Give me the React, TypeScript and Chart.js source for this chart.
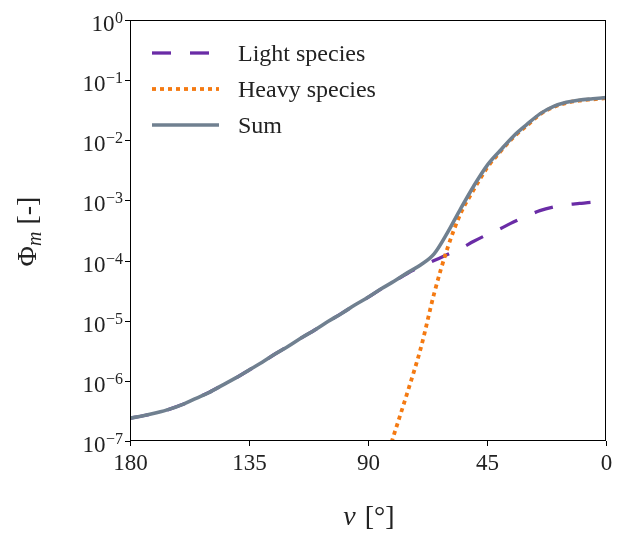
import React, { useEffect, useRef } from "react";
import { Chart, registerables } from "chart.js";

Chart.register(...registerables);

const FONT = '"Liberation Serif", "Times New Roman", serif';

// True anomaly grid (degrees)
const nu = [
  180, 175, 170, 165, 160, 155, 150, 145, 140, 135, 130, 125, 120, 115, 110, 105, 100, 95, 90,
  85, 80, 75, 70, 65, 60, 55, 50, 45, 40, 35, 30, 25, 20, 15, 10, 5, 0,
];

const sumValues = [
  2.4e-7, 2.63e-7, 2.95e-7, 3.39e-7, 4.07e-7, 5.13e-7, 6.46e-7, 8.51e-7, 1.12e-6, 1.51e-6,
  2.04e-6, 2.82e-6, 3.8e-6, 5.25e-6, 7.08e-6, 9.77e-6, 1.32e-5, 1.82e-5, 2.45e-5, 3.39e-5,
  4.57e-5, 6.31e-5, 8.51e-5, 1.29e-4, 2.88e-4, 7.24e-4, 1.74e-3, 3.8e-3, 6.76e-3, 1.17e-2,
  1.82e-2, 2.75e-2, 3.63e-2, 4.27e-2, 4.68e-2, 4.9e-2, 5.13e-2,
];

const lightValues = [
  2.4e-7, 2.63e-7, 2.95e-7, 3.39e-7, 4.07e-7, 5.13e-7, 6.46e-7, 8.51e-7, 1.12e-6, 1.51e-6,
  2.04e-6, 2.82e-6, 3.8e-6, 5.25e-6, 7.08e-6, 9.77e-6, 1.32e-5, 1.82e-5, 2.45e-5, 3.39e-5,
  4.57e-5, 6.17e-5, 7.94e-5, 1.0e-4, 1.26e-4, 1.58e-4, 2.09e-4, 2.69e-4, 3.39e-4, 4.37e-4,
  5.5e-4, 6.76e-4, 7.76e-4, 8.51e-4, 8.91e-4, 9.33e-4, 9.55e-4,
];

const heavyNu = [82, 80, 75, 70, 65, 60, 55, 50, 45, 40, 35, 30, 25, 20, 15, 10, 5, 0];
const heavyValues = [
  7.08e-8, 1.35e-7, 6.61e-7, 3.55e-6, 2.82e-5, 1.58e-4, 6.03e-4, 1.51e-3, 3.47e-3, 6.46e-3,
  1.12e-2, 1.74e-2, 2.69e-2, 3.55e-2, 4.17e-2, 4.57e-2, 4.79e-2, 5.01e-2,
];

const xTicks = [180, 135, 90, 45, 0];
const yTickExponents = [0, -1, -2, -3, -4, -5, -6, -7];
const seriesLabels = ["Light species", "Heavy species", "Sum"];

const COLOR_LIGHT = "#6a2ca6";
const COLOR_HEAVY = "#f47a12";
const COLOR_SUM = "#708090";

const mplPlugin = {
  id: "mplAxes",
  afterDatasetsDraw(chart: any) {
    const ctx = chart.ctx as CanvasRenderingContext2D;
    const { left, right, top, bottom } = chart.chartArea;
    const xs = chart.scales.x;
    const ys = chart.scales.y;
    ctx.save();

    // frame
    ctx.strokeStyle = "#000";
    ctx.lineWidth = 1;
    ctx.setLineDash([]);
    ctx.strokeRect(left + 0.5, top + 0.5, right - left - 1, bottom - top - 1);

    // y ticks and labels
    ctx.fillStyle = "#222";
    for (const e of yTickExponents) {
      const y = Math.round(ys.getPixelForValue(Math.pow(10, e))) + 0.5;
      ctx.beginPath();
      ctx.moveTo(left - 5, y);
      ctx.lineTo(left, y);
      ctx.stroke();
      const sup = e === 0 ? "0" : "\u2212" + Math.abs(e);
      const rx = left - 7;
      ctx.textAlign = "right";
      ctx.textBaseline = "alphabetic";
      ctx.font = `16px ${FONT}`;
      const supW = ctx.measureText(sup).width;
      ctx.fillText(sup, rx, y + 2);
      ctx.font = `23px ${FONT}`;
      ctx.fillText("10", rx - supW - 0.5, y + 10.5);
    }

    // x ticks and labels
    for (const v of xTicks) {
      const x = Math.round(xs.getPixelForValue(v)) + 0.5;
      ctx.beginPath();
      ctx.moveTo(x, bottom);
      ctx.lineTo(x, bottom + 5);
      ctx.stroke();
      ctx.font = `23px ${FONT}`;
      ctx.textAlign = "center";
      ctx.textBaseline = "alphabetic";
      ctx.fillText(String(v), x, bottom + 29);
    }

    // x title: ν [°]
    {
      const cx = (left + right) / 2;
      const base = bottom + 84;
      ctx.textAlign = "left";
      ctx.font = `italic 28px ${FONT}`;
      const w1 = ctx.measureText("\u03bd").width;
      ctx.font = `28px ${FONT}`;
      const t2 = " [\u00b0]";
      const w2 = ctx.measureText(t2).width;
      const x0 = cx - (w1 + w2) / 2;
      ctx.font = `italic 28px ${FONT}`;
      ctx.fillText("\u03bd", x0, base);
      ctx.font = `28px ${FONT}`;
      ctx.fillText(t2, x0 + w1 + 2, base);
    }

    // y title: Φ_m [-]
    {
      ctx.save();
      ctx.translate(36, (top + bottom) / 2 + 1);
      ctx.rotate(-Math.PI / 2);
      ctx.textAlign = "left";
      ctx.textBaseline = "alphabetic";
      ctx.font = `28px ${FONT}`;
      const wPhi = ctx.measureText("\u03a6").width;
      ctx.font = `italic 20px ${FONT}`;
      const wM = ctx.measureText("m").width;
      ctx.font = `28px ${FONT}`;
      const t3 = " [-]";
      const w3 = ctx.measureText(t3).width;
      const total = wPhi + wM + w3;
      let x = -total / 2;
      ctx.fillText("\u03a6", x, 0);
      x += wPhi;
      ctx.font = `italic 20px ${FONT}`;
      ctx.fillText("m", x, 5);
      x += wM;
      ctx.font = `28px ${FONT}`;
      ctx.fillText(t3, x, 0);
      ctx.restore();
    }

    // legend
    const ds = chart.data.datasets;
    const rowY = [top + 33, top + 69, top + 105];
    ds.forEach((d: any, i: number) => {
      const y = rowY[i];
      ctx.save();
      ctx.strokeStyle = d.borderColor;
      ctx.lineWidth = d.borderWidth;
      ctx.setLineDash(d.borderDash || []);
      ctx.lineCap = "butt";
      ctx.beginPath();
      ctx.moveTo(left + 22, y);
      ctx.lineTo(left + 89, y);
      ctx.stroke();
      ctx.restore();
      ctx.fillStyle = "#222";
      ctx.font = `24px ${FONT}`;
      ctx.textAlign = "left";
      ctx.textBaseline = "alphabetic";
      ctx.fillText(d.label, left + 108, y + 8);
    });

    ctx.restore();
  },
};

export default function App() {
  const canvasRef = useRef<HTMLCanvasElement | null>(null);

  useEffect(() => {
    if (!canvasRef.current) return;
    const toPts = (xsArr: number[], ysArr: number[]) => xsArr.map((x, i) => ({ x, y: ysArr[i] }));
    const chart = new Chart(canvasRef.current, {
      type: "line",
      data: {
        datasets: [
          {
            label: seriesLabels[0],
            data: toPts(nu, lightValues),
            borderColor: COLOR_LIGHT,
            borderWidth: 3.3,
            borderDash: [19, 19],
            borderCapStyle: "butt",
            pointRadius: 0,
            cubicInterpolationMode: "monotone",
            fill: false,
            order: 2,
          },
          {
            label: seriesLabels[1],
            data: toPts(heavyNu, heavyValues),
            borderColor: COLOR_HEAVY,
            borderWidth: 3.8,
            borderDash: [4, 4],
            borderCapStyle: "butt",
            pointRadius: 0,
            cubicInterpolationMode: "monotone",
            fill: false,
            order: 1,
          },
          {
            label: seriesLabels[2],
            data: toPts(nu, sumValues),
            borderColor: COLOR_SUM,
            borderWidth: 3.6,
            pointRadius: 0,
            cubicInterpolationMode: "monotone",
            fill: false,
            order: 0,
          },
        ],
      },
      options: {
        responsive: false,
        animation: false,
        devicePixelRatio: 1,
        layout: { padding: { left: 130, right: 17, top: 20, bottom: 92 } },
        plugins: { legend: { display: false }, tooltip: { enabled: false } },
        scales: {
          x: { type: "linear", min: 0, max: 180, reverse: true, display: false },
          y: { type: "logarithmic", min: 1e-7, max: 1, display: false },
        },
      },
      plugins: [mplPlugin],
    } as any);
    return () => chart.destroy();
  }, []);

  return (
    <div style={{ position: "fixed", left: 0, top: 0, width: 623, height: 533, background: "#fff" }}>
      <canvas ref={canvasRef} width={623} height={533} />
    </div>
  );
}
